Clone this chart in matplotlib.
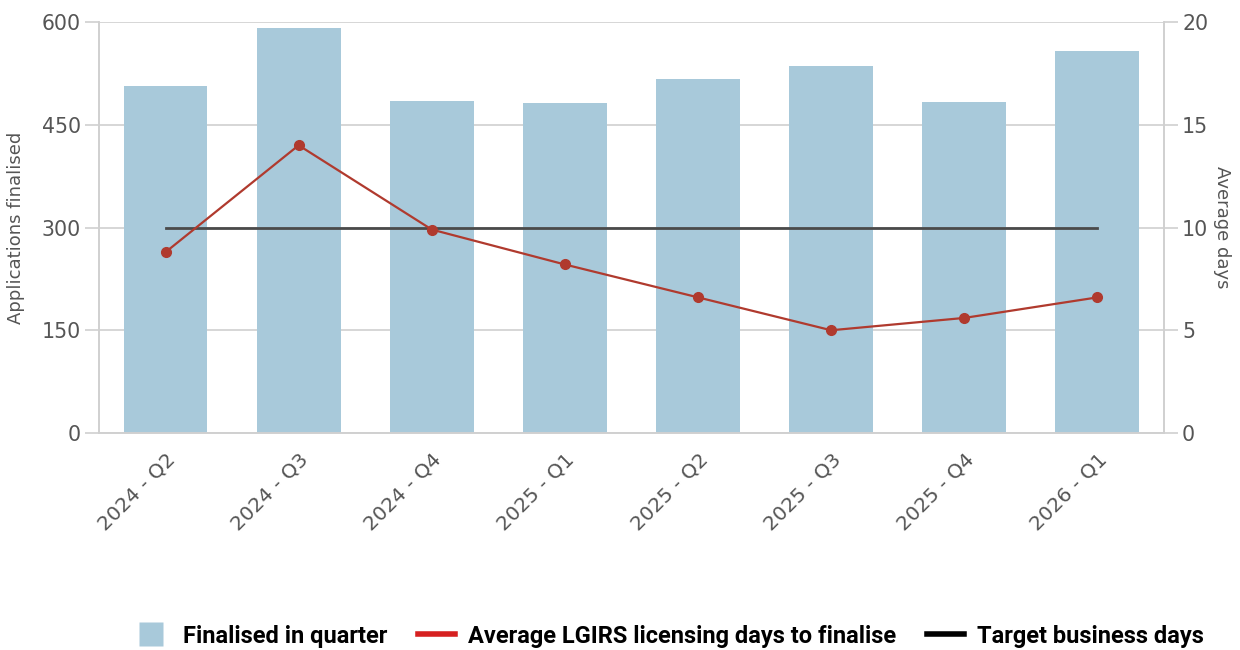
import matplotlib
matplotlib.use("Agg")
import matplotlib.pyplot as plt
from matplotlib.lines import Line2D

plt.rcParams['font.family'] = ['DejaVu Sans']

# data
quarters = ['2024 - Q2', '2024 - Q3', '2024 - Q4', '2025 - Q1',
            '2025 - Q2', '2025 - Q3', '2025 - Q4', '2026 - Q1']
finalised = [507, 591, 485, 482, 517, 536, 483, 558]
avg_days = [8.8, 14.0, 9.9, 8.2, 6.6, 5.0, 5.6, 6.6]
target_days = [10, 10, 10, 10, 10, 10, 10, 10]

bar_col = '#a8c9da'
red = '#b03a2e'
grid_col = '#d0d0d0'
txt_col = '#555555'

fig = plt.figure(figsize=(12.4, 6.5), dpi=100)
ax = fig.add_axes([0.0798, 0.3338, 0.8589, 0.6324])
ax2 = ax.twinx()

x = range(len(quarters))
ax.bar(x, finalised, width=0.63, color=bar_col, zorder=2)
ax.set_xlim(-0.5, 7.5)
ax.set_ylim(0, 600)
ax.set_yticks([0, 150, 300, 450, 600])
ax.grid(axis='y', color=grid_col, linewidth=1.2, zorder=0)
ax.set_axisbelow(True)

ax2.plot(x, target_days, color='#4a4a4a', linewidth=2, zorder=3)
ax2.plot(x, avg_days, color=red, linewidth=1.6, marker='o', markersize=7, zorder=4)
ax2.set_ylim(0, 20)
ax2.set_yticks([0, 5, 10, 15, 20])

ax.set_xticks(list(x))
ax.set_xticklabels(quarters, rotation=45, ha='right', va='top',
                   rotation_mode='anchor', fontsize=14.5, color=txt_col)
ax.tick_params(axis='x', length=0, pad=12)
ax.tick_params(axis='y', length=10, width=1.2, color=grid_col,
               labelsize=14.8, labelcolor=txt_col, pad=3)
ax2.tick_params(axis='y', length=10, width=1.2, color=grid_col,
                labelsize=14.8, labelcolor=txt_col, pad=3)

for a in (ax, ax2):
    for s in a.spines.values():
        s.set_color(grid_col)
        s.set_linewidth(1.2)
    a.spines['top'].set_visible(False)

ax.set_ylabel('Applications finalised', fontsize=13, color=txt_col, va='center')
ax2.set_ylabel('Average days', fontsize=13, color=txt_col, rotation=270, va='center')
ax.yaxis.set_label_coords(-0.078, 0.5)
ax2.yaxis.set_label_coords(1.0545, 0.5)

handles = [Line2D([0], [0], linestyle='none', marker='s', markersize=17,
                  markerfacecolor=bar_col, markeredgecolor='none'),
           Line2D([0], [0], color='#d62020', linewidth=4),
           Line2D([0], [0], color='black', linewidth=4)]
labels = ['Finalised in quarter', 'Average LGIRS licensing days to finalise',
          'Target business days']
fig.legend(handles, labels, loc='center', bbox_to_anchor=(0.539, 0.0215), ncol=3,
           frameon=False, handlelength=1.6, handletextpad=0.55, columnspacing=1.27,
           prop={'family': ['Roboto', 'DejaVu Sans'], 'weight': 'bold', 'size': 17})

fig.savefig('out.png', dpi=100)
